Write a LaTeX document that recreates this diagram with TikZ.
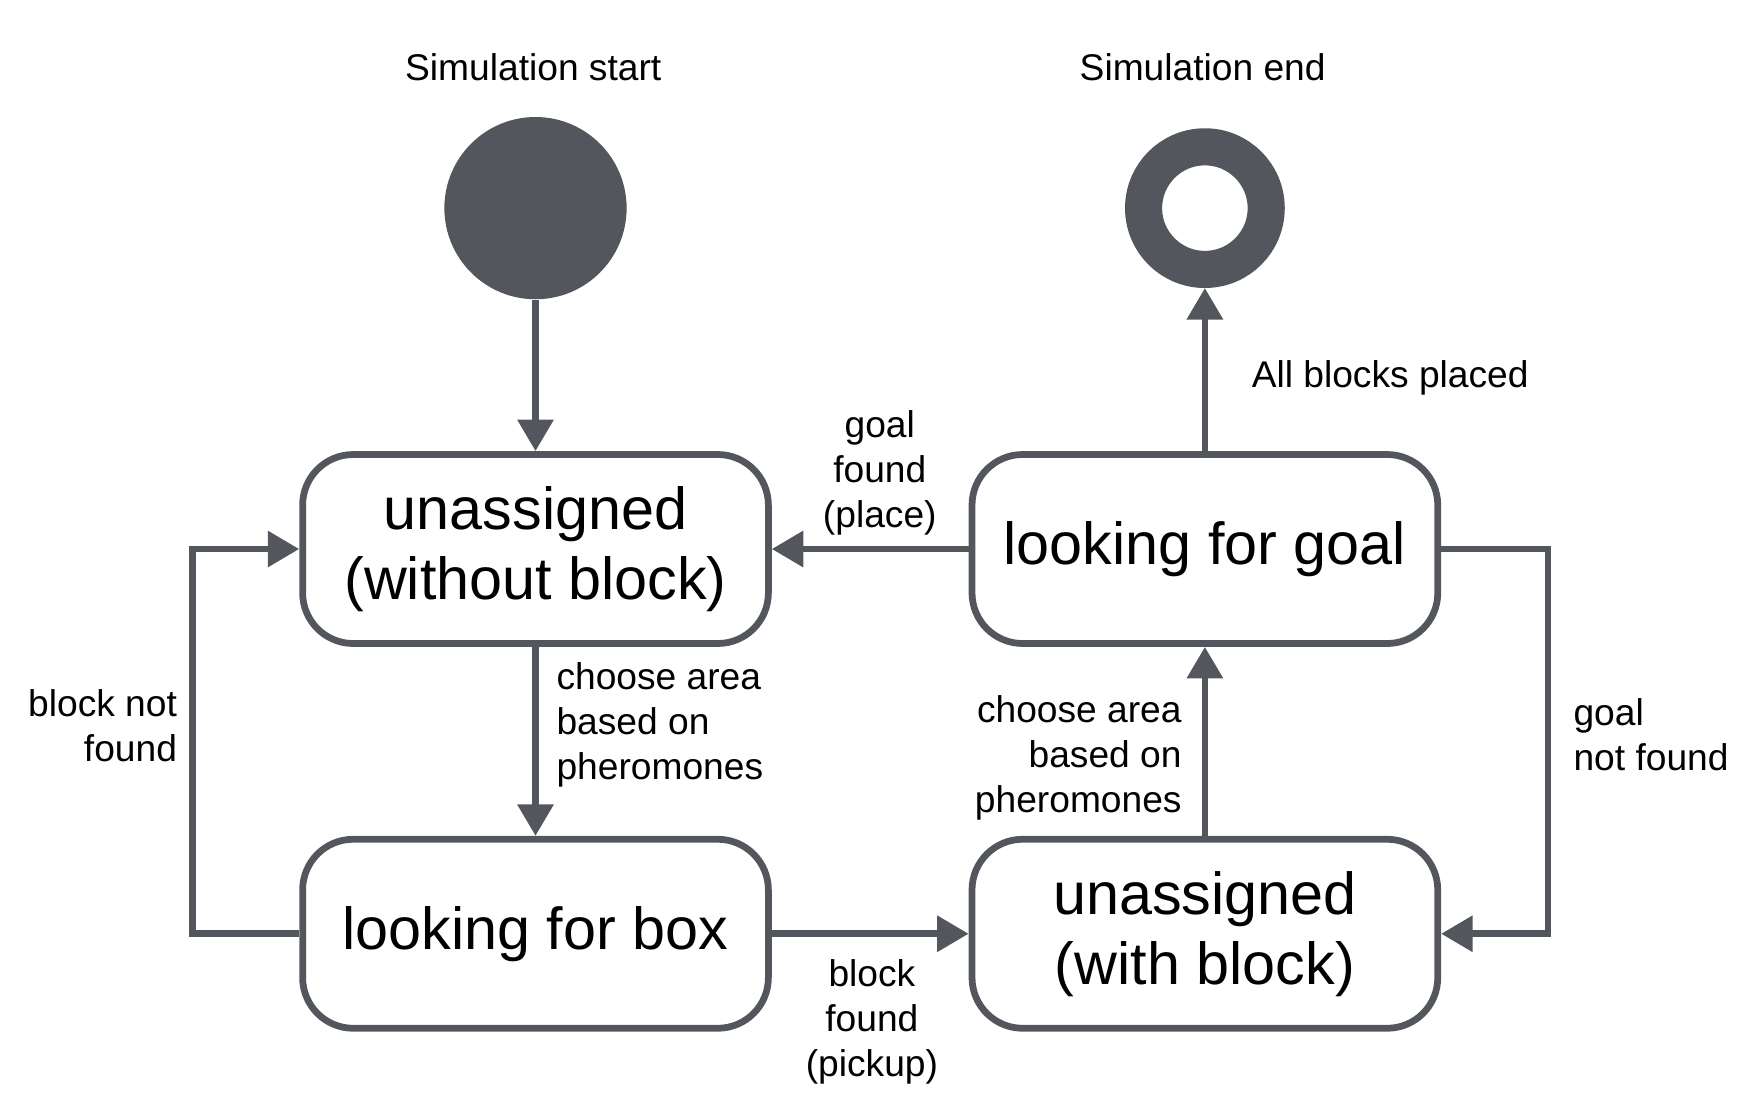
\documentclass[tikz,border=0pt]{standalone}
\usepackage{fontspec}
\setmainfont{Liberation Sans}
\usetikzlibrary{arrows.meta}
\definecolor{umlgray}{HTML}{53575D}
\tikzset{
  state/.style={draw=umlgray, line width=0.06cm, rounded corners=0.45cm, fill=white,
    minimum width=4.14cm, minimum height=1.68cm, inner sep=0, align=center,
    font=\fontsize{15}{17.7}\selectfont},
  startstate/.style={circle, fill=umlgray, minimum size=1.62cm, inner sep=0},
  endstate/.style={circle, draw=umlgray, line width=0.33cm, minimum size=1.09cm, inner sep=0},
  lbl/.style={font=\fontsize{9.4}{11.4}\selectfont, inner sep=0},
  arr/.style={draw=umlgray, line width=0.06cm, -{Triangle[width=0.31cm, length=0.28cm]}},
}
\begin{document}
\begin{tikzpicture}
            \useasboundingbox (0, 0) rectangle (15.68, 9.80);

            %%start and end
            \node[startstate] (start) at (4.76, 7.95) {};
            \node[lbl] (simstart) at (4.74, 9.20) {Simulation start};
            \node[endstate] (end) at (10.71, 7.95) {};
            \node[lbl] (simend) at (10.69, 9.20) {Simulation end};

            %%states
            \node[state] (nobox) at (4.76, 4.92) {unassigned\\(without block)};
            \node[state] (goal) at (10.71, 4.92) {looking for goal};
            \node[state] (box) at (4.76, 1.50) {looking for box};
            \node[state] (withbox) at (10.71, 1.50) {unassigned\\(with block)};

            %%transitions
            \draw[arr] (start) -- (nobox);
            \draw[arr] (nobox) -- (box);
                \node[lbl, anchor=west, align=left] (choosebox) at (4.94, 3.36) {choose area\\based on\\pheromones};
            \draw[arr] (box) -- (withbox);
                \node[lbl, align=center] (pickup) at (7.75, 0.72) {block\\found\\(pickup)};
            \draw[arr] (withbox) -- (goal);
                \node[lbl, anchor=east, align=right] (choosegoal) at (10.51, 3.06) {choose area\\based on\\pheromones};
            \draw[arr] (goal) -- (nobox);
                \node[lbl, align=center] (place) at (7.82, 5.60) {goal\\found\\(place)};
            \draw[arr] (goal) -- (end);
                \node[lbl, anchor=west] (allplaced) at (11.12, 6.44) {All blocks placed};

            %%loops
            \draw[arr] (box.west) -- ++(-0.95, 0) |- (nobox.west);
                \node[lbl, anchor=east, align=right] (boxnotfound) at (1.58, 3.35) {block not\\found};
            \draw[arr] (goal.east) -- ++(0.95, 0) |- (withbox.east);
                \node[lbl, anchor=west, align=left] (goalnotfound) at (13.98, 3.27) {goal\\not found};

\end{tikzpicture}
\end{document}
